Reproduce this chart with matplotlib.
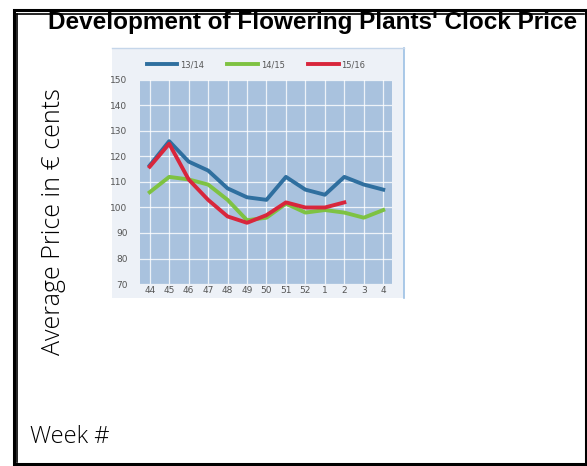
import matplotlib
matplotlib.use("Agg")
import matplotlib.pyplot as plt
from matplotlib.patches import Rectangle
from matplotlib.lines import Line2D

weeks = ["44", "45", "46", "47", "48", "49", "50", "51", "52", "1", "2", "3", "4"]
s1314 = [116.5, 126, 118, 114.5, 107.5, 104, 103, 112, 107, 105, 112, 109, 107]
s1415 = [106, 112, 111, 109, 103, 95, 96, 101.5, 98, 99, 98, 96, 99]
s1516 = [116, 125, 111, 103, 96.5, 94, 97, 102, 100, 100, 102]
series_names = ["13/14", "14/15", "15/16"]
yticks = [70, 80, 90, 100, 110, 120, 130, 140, 150]

W, H = 587, 466
fig = plt.figure(figsize=(W / 100, H / 100), dpi=100)
fig.patch.set_facecolor("white")

def fx(px):
    return px / W

def fy(py):
    return 1 - py / H

# frame
fig.add_artist(Rectangle((fx(13.5), fy(463.5)), fx(585.5) - fx(13.5), fy(9.5) - fy(463.5),
                         transform=fig.transFigure, fill=False, edgecolor="black", linewidth=2.2))
fig.add_artist(Line2D([fx(17), fx(17)], [fy(14), fy(462)], transform=fig.transFigure,
                      color="black", linewidth=1.2))
fig.add_artist(Line2D([fx(17), fx(584)], [fy(14), fy(14)], transform=fig.transFigure,
                      color="black", linewidth=1.2))

# inner image background
bg = Rectangle((fx(112), fy(298)), fx(404) - fx(112), fy(48) - fy(298),
               transform=fig.transFigure, facecolor="#edf1f7", edgecolor="none", zorder=-5)
fig.add_artist(bg)
fig.add_artist(Line2D([fx(404), fx(404)], [fy(48), fy(298)], transform=fig.transFigure,
                      color="#9cc0e4", linewidth=1.2, zorder=-4))
fig.add_artist(Line2D([fx(112), fx(404)], [fy(48.5), fy(48.5)], transform=fig.transFigure,
                      color="#c5d6ea", linewidth=1.0, zorder=-4))

ax = fig.add_axes([fx(140), fy(284), fx(392) - fx(140), fy(80) - fy(284)])
ax.set_zorder(3)
ax.set_facecolor("#a9c2de")
x = list(range(len(weeks)))
ax.plot(x[:len(s1314)], s1314, color="#2f6f9f", linewidth=2.8, label=series_names[0], zorder=3)
ax.plot(x[:len(s1415)], s1415, color="#7ec242", linewidth=2.8, label=series_names[1], zorder=4)
ax.plot(x[:len(s1516)], s1516, color="#d8263c", linewidth=2.8, label=series_names[2], zorder=5)
ax.set_xlim(-0.5, 12.45)
ax.set_ylim(70, 150)
ax.set_xticks(x)
ax.set_xticklabels(weeks)
ax.set_yticks(yticks)
ax.grid(True, color="white", linewidth=0.9, alpha=0.8)
ax.set_axisbelow(True)
for sp in ax.spines.values():
    sp.set_visible(False)
ax.tick_params(length=0, labelsize=6.5, labelcolor="#555555")
ax.tick_params(axis="y", pad=9)
ax.tick_params(axis="x", pad=1.5)

leg = ax.legend(loc="center", bbox_to_anchor=(0.46, 1.074), ncol=3, frameon=False,
                fontsize=6, handlelength=3.7, columnspacing=2.8, handletextpad=0.3)
for t in leg.get_texts():
    t.set_color("#555555")

fig.text(fx(313), fy(22), "Development of Flowering Plants' Clock Price", ha="center", va="center",
         fontsize=17.5, fontweight="bold", family="Liberation Sans")
fig.text(fx(54), fy(222), "Average Price in € cents", rotation=90, ha="center", va="center",
         fontsize=18, family="Open Sans", fontweight="light")
fig.text(fx(30), fy(437), "Week #", ha="left", va="center", fontsize=17,
         family="Open Sans", fontweight="light")

fig.savefig("out.png", dpi=100)
